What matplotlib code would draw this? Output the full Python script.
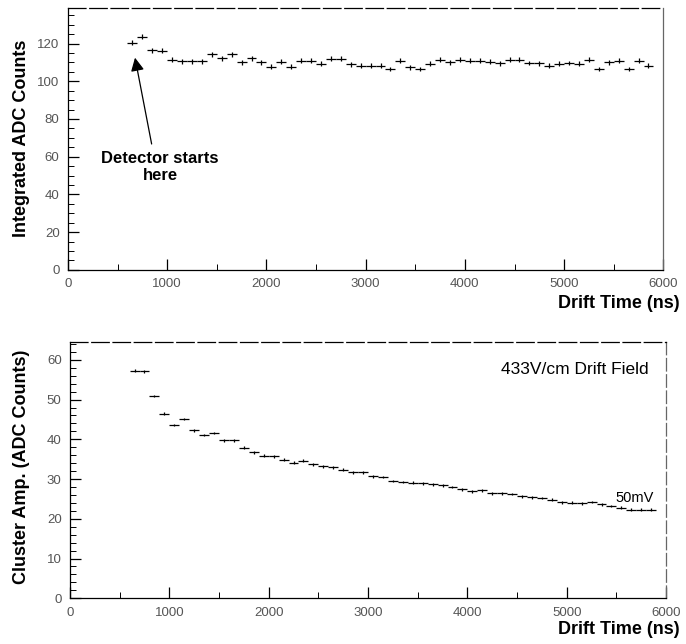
import numpy as np
import matplotlib
matplotlib.use("Agg")
import matplotlib.pyplot as plt
from matplotlib.ticker import MultipleLocator

plt.rcParams['font.family'] = ['Liberation Sans', 'DejaVu Sans']

# drift time bin centres (ns), 100 ns bins
drift_time = [650 + 100 * i for i in range(53)]

# top: integrated ADC counts per bin
integrated_adc = [120.5, 123.7, 116.4, 116.2, 111.4, 110.7, 110.7, 110.7, 114.4, 112.2,
                  114.4, 110.1, 112.2, 110.1, 107.6, 110.4, 107.6, 111.0, 111.0, 109.2,
                  111.9, 111.9, 108.9, 108.3, 108.3, 108.3, 106.5, 111.0, 107.4, 106.5,
                  109.2, 111.5, 110.1, 111.5, 111.0, 111.0, 110.4, 109.6, 111.5, 111.5,
                  109.7, 109.6, 108.3, 109.2, 109.7, 109.2, 111.5, 106.5, 110.1, 111.0,
                  106.5, 111.0, 108.3]

# bottom: cluster amplitude (ADC counts), 50mV threshold
cluster_amp = [57.3, 57.1, 50.9, 46.4, 43.6, 45.1, 42.3, 41.1, 41.6, 39.75,
               39.75, 37.9, 36.7, 35.9, 35.7, 34.9, 34.1, 34.6, 33.75, 33.25,
               33.0, 32.4, 31.7, 31.7, 30.7, 30.5, 29.5, 29.25, 29.1, 28.9,
               28.7, 28.4, 28.0, 27.4, 26.9, 27.2, 26.4, 26.4, 26.25, 25.7,
               25.4, 25.25, 24.8, 24.2, 24.1, 23.9, 24.25, 23.6, 23.2, 22.75,
               22.3, 22.3, 22.3]

fig = plt.figure(figsize=(6.86, 6.44), dpi=100)


def style_axes(ax):
    # PAW-ish look: ticks inside, thin gray tick labels, broken top frame
    ax.tick_params(which='both', direction='in', top=False, right=False,
                   labelsize=9.5, labelcolor='#555555', pad=6)
    ax.tick_params(which='major', length=8, width=0.9)
    ax.tick_params(which='minor', length=4, width=0.7)
    for s in ax.spines.values():
        s.set_linewidth(0.9)
    ax.spines['top'].set_linestyle((0, (14, 3)))
    ax.spines['right'].set_color('#666666')


ax1 = fig.add_axes([0.099, 0.581, 0.868, 0.407])
ax1.errorbar(drift_time, integrated_adc, xerr=50, yerr=1.3, fmt='none',
             ecolor='black', elinewidth=0.9)
ax1.set_xlim(0, 6000)
ax1.set_ylim(0, 139)
ax1.xaxis.set_major_locator(MultipleLocator(1000))
ax1.xaxis.set_minor_locator(MultipleLocator(500))
ax1.yaxis.set_major_locator(MultipleLocator(20))
ax1.yaxis.set_minor_locator(MultipleLocator(5))
style_axes(ax1)
ax1.annotate('Detector starts\nhere', xy=(676, 112.5), xytext=(928, 54.5),
             ha='center', va='center', fontsize=12, fontweight='bold',
             arrowprops=dict(arrowstyle='-|>', color='black', lw=0.9,
                             mutation_scale=20, relpos=(0.44, 1.0),
                             shrinkA=3, shrinkB=0))
fig.text(0.032, 1 - 40 / 644, 'Integrated ADC Counts', rotation=90,
         ha='center', va='top', fontsize=13, fontweight='bold')
fig.text(0.99, 0.529, 'Drift Time (ns)', ha='right', va='center',
         fontsize=13, fontweight='bold')

ax2 = fig.add_axes([0.102, 0.071, 0.869, 0.398])
ax2.errorbar(drift_time, cluster_amp, xerr=50, yerr=0.35, fmt='none',
             ecolor='black', elinewidth=0.9)
ax2.set_xlim(0, 6000)
ax2.set_ylim(0, 64.5)
ax2.xaxis.set_major_locator(MultipleLocator(1000))
ax2.xaxis.set_minor_locator(MultipleLocator(500))
ax2.yaxis.set_major_locator(MultipleLocator(10))
ax2.yaxis.set_minor_locator(MultipleLocator(2))
style_axes(ax2)
ax2.spines['right'].set_linestyle((0, (10, 3)))
ax2.text(0.97, 0.893, '433V/cm Drift Field', transform=ax2.transAxes,
         ha='right', va='center', fontsize=12.5)
ax2.text(0.98, 0.39, '50mV', transform=ax2.transAxes,
         ha='right', va='center', fontsize=10.5)
fig.text(0.032, 1 - 350 / 644, 'Cluster Amp. (ADC Counts)', rotation=90,
         ha='center', va='top', fontsize=13, fontweight='bold')
fig.text(0.99, 0.022, 'Drift Time (ns)', ha='right', va='center',
         fontsize=13, fontweight='bold')

fig.savefig('out.png', dpi=100)
